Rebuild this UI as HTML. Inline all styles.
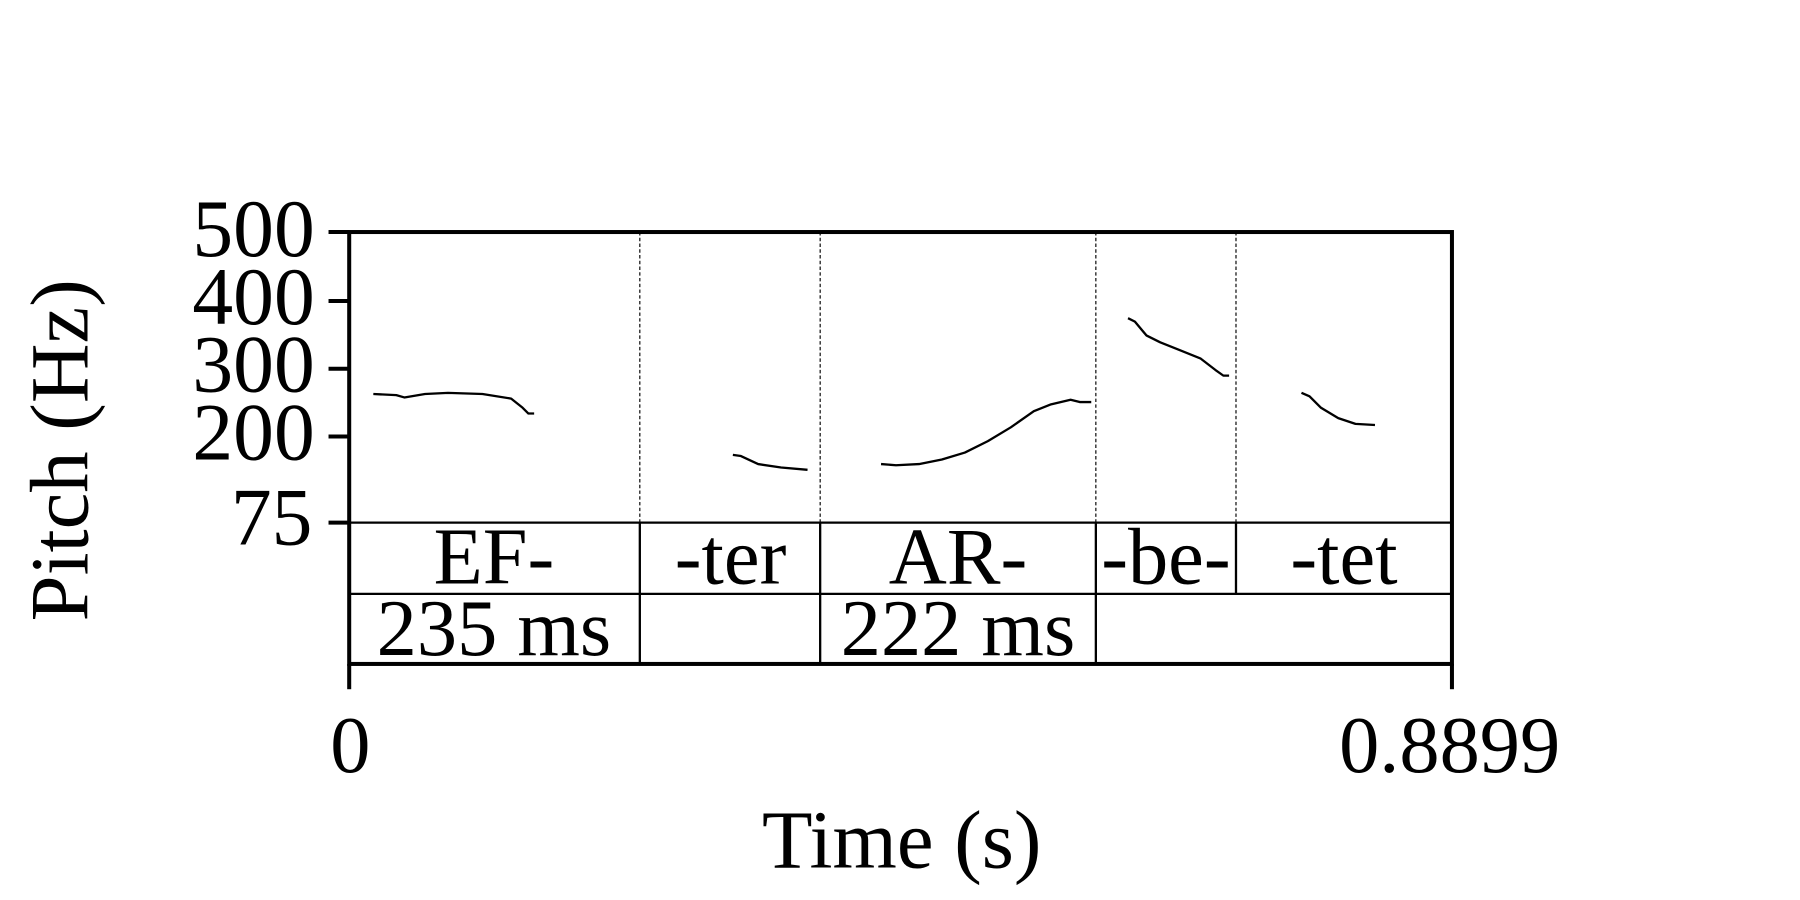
<!DOCTYPE html>
<html><head><style>html,body{margin:0;padding:0;background:#fff;}svg{display:block;}</style></head>
<body>
<svg width="1800" height="900" viewBox="0 0 1567 783.5" xmlns="http://www.w3.org/2000/svg" font-family="Liberation Serif, serif" fill="#000">
<rect width="1567" height="784" fill="#fff"/>
<g stroke="#000" fill="none">
<rect x="304" y="202" width="960" height="376" stroke-width="3.5"/>
<line x1="304" y1="455" x2="1264" y2="455" stroke-width="2"/>
<line x1="304" y1="517" x2="1264" y2="517" stroke-width="2"/>
<g stroke-width="1" stroke-dasharray="3,2">
<line x1="557" y1="202" x2="557" y2="455"/><line x1="714" y1="202" x2="714" y2="455"/>
<line x1="954" y1="202" x2="954" y2="455"/><line x1="1076" y1="202" x2="1076" y2="455"/>
</g>
<g stroke-width="2">
<line x1="557" y1="455" x2="557" y2="578"/><line x1="714" y1="455" x2="714" y2="578"/>
<line x1="954" y1="455" x2="954" y2="578"/><line x1="1076" y1="455" x2="1076" y2="517"/>
</g>
<g stroke-width="3.5">
<line x1="286" y1="202" x2="304" y2="202"/><line x1="286" y1="262" x2="304" y2="262"/>
<line x1="286" y1="321" x2="304" y2="321"/><line x1="286" y1="380" x2="304" y2="380"/>
<line x1="286" y1="455" x2="304" y2="455"/>
<line x1="304" y1="578" x2="304" y2="600"/><line x1="1264" y1="578" x2="1264" y2="600"/>
</g>
<g stroke-width="2" stroke-linejoin="round">
<polyline points="325,343 345,344 352,346 370,343 390,342 420,343 445,347 455,355 460,360 465,360"/>
<polyline points="638,396 645,397 660,404 680,407 703,409"/>
<polyline points="767,404 780,405 800,404 820,400 840,394 860,384 880,372 900,358 915,352 932,348 940,350 950,350"/>
<polyline points="982,277 988,280 998,292 1010,298 1025,304 1045,312 1058,322 1065,327 1070,327"/>
<polyline points="1133,342 1140,345 1150,355 1165,364 1180,369 1197,370"/>
</g>
</g>
<g font-size="71" text-anchor="end">
<text x="274" y="223">500</text><text x="274" y="282">400</text>
<text x="274" y="341">300</text><text x="274" y="400">200</text>
<text x="272" y="474">75</text>
</g>
<g font-size="70" text-anchor="middle">
<text x="430" y="508">EF-</text><text x="636" y="508">-ter</text>
<text x="834" y="508">AR-</text><text x="1015" y="508">-be-</text>
<text x="1170" y="508">-tet</text>
<text x="430" y="570">235 ms</text><text x="834" y="570">222 ms</text>
<text x="305" y="672">0</text><text x="1262" y="672">0.8899</text>
<text x="785" y="755" font-size="72">Time (s)</text>
<text transform="translate(76,392) rotate(-90)" font-size="72">Pitch (Hz)</text>
</g>
</svg>
</body></html>
